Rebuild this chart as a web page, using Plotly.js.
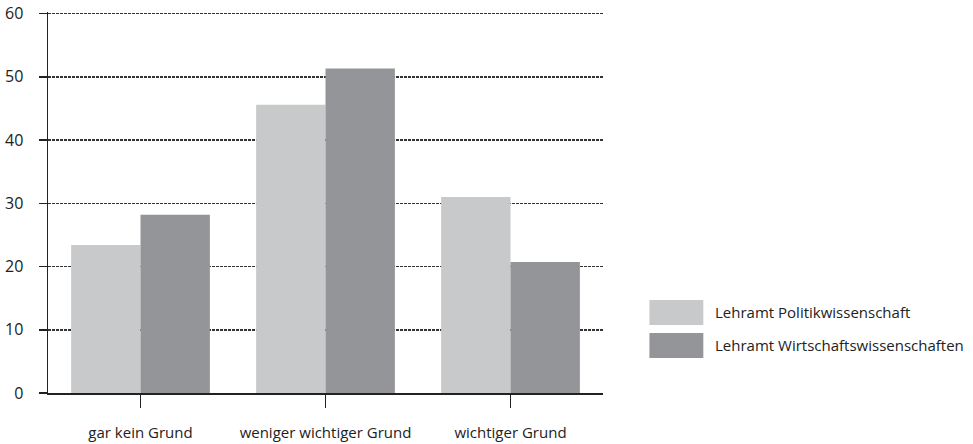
<!DOCTYPE html>
<html>
<head>
<meta charset="utf-8">
<script src="https://cdn.plot.ly/plotly-3.0.1.min.js"></script>
<style>
  html, body { margin: 0; padding: 0; background: #fff; }
  #chart { width: 973px; height: 444px; }
</style>
</head>
<body>
<div id="chart"></div>
<script>
// Reasons, share in percent per study programme
const categories = ['gar kein Grund', 'weniger wichtiger Grund', 'wichtiger Grund'];
const seriesNames = ['Lehramt Politikwissenschaft', 'Lehramt Wirtschaftswissenschaften'];
const politik = [23.4, 45.6, 31.0];
const wirtschaft = [28.2, 51.3, 20.7];
const yTicks = [0, 10, 20, 30, 40, 50, 60];

const colors = ['#c8c9cb', '#949598'];
const fontFamily = '"Open Sans", "Noto Sans", sans-serif';
const fontSize = 15;

const traces = [politik, wirtschaft].map((vals, i) => ({
  type: 'bar',
  x: categories,
  y: vals,
  name: seriesNames[i],
  marker: { color: colors[i], line: { width: 0 } },
  hoverinfo: 'skip'
}));

// y range runs a hair past 60 so the top grid line is kept
const yMax = 60.25;
const marginTop = 14 - (yMax - 60) * 6.32;

// Legend drawn as paper-positioned swatches and labels
const left = 47.5, base = 393;
const plotW = 556, plotH = base - marginTop;
const shapes = [];
const annotations = [];
seriesNames.forEach((name, i) => {
  const top = 300 + i * 33;
  shapes.push({
    type: 'rect', xref: 'paper', yref: 'paper',
    x0: (650 - left) / plotW, x1: (704 - left) / plotW,
    y0: (base - top) / plotH, y1: (base - top - 25) / plotH,
    fillcolor: colors[i], line: { width: 0 }
  });
  annotations.push({
    xref: 'paper', yref: 'paper',
    x: (714 - left) / plotW, y: (base - top - 12.5) / plotH,
    xanchor: 'left', yanchor: 'middle',
    text: name, showarrow: false,
    font: { family: fontFamily, size: fontSize, color: '#222' }
  });
});

const layout = {
  width: 973, height: 444,
  margin: { l: 47.5, r: 369.5, t: marginTop, b: 51 },
  paper_bgcolor: '#fff', plot_bgcolor: '#fff',
  font: { family: fontFamily, size: fontSize, color: '#222' },
  showlegend: false,
  barmode: 'group',
  bargap: 0.25,
  bargroupgap: 0,
  xaxis: {
    type: 'category',
    range: [-0.5, 2.5],
    showline: true, linecolor: '#222', linewidth: 1.5,
    ticks: 'outside', ticklen: 13, tickwidth: 1.5, tickcolor: '#222',
    ticklabelstandoff: 12,
    showgrid: false, zeroline: false,
    tickfont: { family: fontFamily, size: fontSize, color: '#222' }
  },
  yaxis: {
    range: [0, yMax],
    tickvals: yTicks,
    showline: true, linecolor: '#222', linewidth: 1.5,
    ticks: 'outside', ticklen: 8, tickwidth: 1.5, tickcolor: '#222',
    ticklabelstandoff: 12,
    showgrid: true, gridcolor: '#333', gridwidth: 1.5, griddash: '2.5px,1.5px',
    zeroline: false,
    tickfont: { family: fontFamily, size: 16, color: '#222' }
  },
  shapes: shapes,
  annotations: annotations
};

Plotly.newPlot('chart', traces, layout, { displayModeBar: false, staticPlot: true });
</script>
</body>
</html>
